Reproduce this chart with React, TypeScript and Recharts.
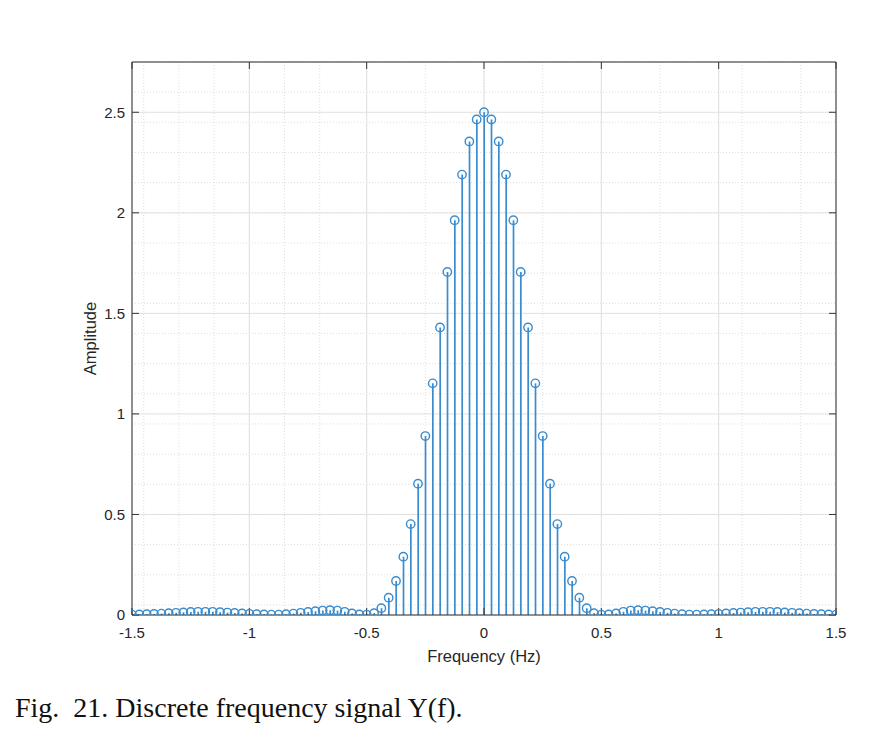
import React from 'react';
import {
  ComposedChart,
  Bar,
  Scatter,
  XAxis,
  YAxis,
  CartesianGrid,
} from 'recharts';

// sampling grid of the discrete spectrum (step 1/32 Hz)
const freqs: number[] = Array.from({ length: 97 }, (_, i) => (i - 48) / 32);

// amplitudes, from -1.5 Hz to 1.5 Hz
const amplitudes: number[] = [
  0.002, 0.003, 0.004, 0.005, 0.007, 0.009, 0.011, 0.013, 0.015, 0.016,
  0.016, 0.016, 0.014, 0.012, 0.01, 0.008, 0.006, 0.004, 0.003, 0.002,
  0.002, 0.004, 0.007, 0.011, 0.015, 0.019, 0.022, 0.024, 0.022, 0.016,
  0.008, 0.003, 0.002, 0.009, 0.034, 0.086, 0.169, 0.29, 0.452, 0.653,
  0.89, 1.152, 1.43, 1.706, 1.963, 2.19, 2.355, 2.464, 2.5, 2.464,
  2.355, 2.19, 1.963, 1.706, 1.43, 1.152, 0.89, 0.653, 0.452, 0.29,
  0.169, 0.086, 0.034, 0.009, 0.002, 0.003, 0.008, 0.016, 0.022, 0.024,
  0.022, 0.019, 0.015, 0.011, 0.007, 0.004, 0.002, 0.002, 0.003, 0.004,
  0.006, 0.008, 0.01, 0.012, 0.014, 0.016, 0.016, 0.016, 0.015, 0.013,
  0.011, 0.009, 0.007, 0.005, 0.004, 0.003, 0.002,
];

const xTicks = [-1.5, -1, -0.5, 0, 0.5, 1, 1.5];
const yTicks = [0, 0.5, 1, 1.5, 2, 2.5];
const minorXTicks: number[] = Array.from({ length: 61 }, (_, i) => -1.5 + i * 0.05);
const minorYTicks: number[] = Array.from({ length: 56 }, (_, i) => i * 0.05);

const data = freqs.map((f, i) => ({ f, amp: amplitudes[i] }));

const STEM = '#3a8cce';
const AXIS = '#333333';
const FONT = '"Liberation Sans", Arial, Helvetica, sans-serif';
const tickStyle = { fill: '#262626', fontSize: 15, fontFamily: FONT };

const StemHead = (props: any) => {
  const { cx, cy } = props;
  if (cx == null || cy == null) return null;
  return <circle cx={cx} cy={cy} r={4.2} fill="none" stroke={STEM} strokeWidth={1.4} />;
};

const App: React.FC = () => {
  return (
    <div style={{ position: 'relative', width: 876, height: 718 }}>
      <ComposedChart
        width={870}
        height={670}
        data={data}
        margin={{ top: 53, right: 41, bottom: 11, left: 64 }}
      >
        <XAxis xAxisId="minor" dataKey="f" type="number" domain={[-1.5, 1.5]} ticks={minorXTicks} hide allowDataOverflow />
        <YAxis yAxisId="minor" type="number" domain={[0, 2.75]} ticks={minorYTicks} hide allowDataOverflow />
        <CartesianGrid
          xAxisId="minor"
          yAxisId="minor"
          stroke="#d6d6d6"
          strokeDasharray="1 2"
          strokeWidth={0.8}
        />
        <CartesianGrid stroke="#e0e0e0" strokeWidth={1} />
        <XAxis
          dataKey="f"
          type="number"
          domain={[-1.5, 1.5]}
          ticks={xTicks}
          allowDataOverflow
          height={52}
          tickSize={-7}
          tickMargin={19}
          tick={tickStyle}
          stroke={AXIS}
          tickLine={{ stroke: AXIS }}
          axisLine={{ stroke: AXIS }}
          label={{
            value: 'Frequency (Hz)',
            position: 'insideBottom',
            offset: 5,
            style: { fill: '#262626', fontSize: 16.5, fontFamily: FONT },
          }}
        />
        <XAxis
          xAxisId="top"
          orientation="top"
          dataKey="f"
          type="number"
          domain={[-1.5, 1.5]}
          ticks={xTicks}
          allowDataOverflow
          height={1}
          tickSize={-7}
          tickFormatter={() => ''}
          stroke={AXIS}
          tickLine={{ stroke: AXIS }}
          axisLine={{ stroke: AXIS }}
        />
        <YAxis
          type="number"
          domain={[0, 2.75]}
          ticks={yTicks}
          allowDataOverflow
          width={60}
          tickSize={-7}
          tickMargin={14}
          tick={tickStyle}
          stroke={AXIS}
          tickLine={{ stroke: AXIS }}
          axisLine={{ stroke: AXIS }}
          label={{
            value: 'Amplitude',
            angle: -90,
            position: 'insideLeft',
            offset: 18,
            style: { fill: '#262626', fontSize: 16.5, fontFamily: FONT, textAnchor: 'middle' },
          }}
        />
        <YAxis
          yAxisId="right"
          orientation="right"
          type="number"
          domain={[0, 2.75]}
          ticks={yTicks}
          allowDataOverflow
          width={1}
          tickSize={-7}
          tickFormatter={() => ''}
          stroke={AXIS}
          tickLine={{ stroke: AXIS }}
          axisLine={{ stroke: AXIS }}
        />
        <Bar dataKey="amp" barSize={1.7} fill={STEM} isAnimationActive={false} />
        <Scatter dataKey="amp" shape={<StemHead />} isAnimationActive={false} />
      </ComposedChart>
      <div
        style={{
          position: 'absolute',
          left: 7,
          top: 686,
          fontFamily: '"Liberation Serif", "Times New Roman", serif',
          fontSize: 28,
          lineHeight: '28px',
          color: '#111',
          whiteSpace: 'pre',
        }}
      >
        {'Fig.  21. Discrete frequency signal Y(f).'}
      </div>
    </div>
  );
};

export default App;
